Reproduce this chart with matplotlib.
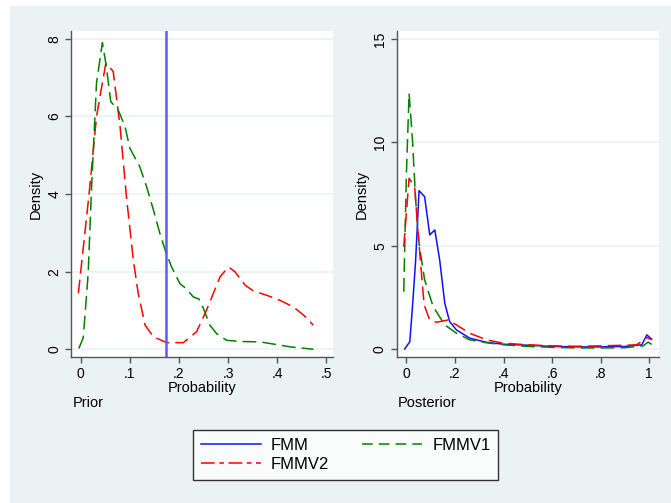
import matplotlib
matplotlib.use("Agg")
import matplotlib.pyplot as plt
from matplotlib.patches import Rectangle
from matplotlib.lines import Line2D

plt.rcParams['font.family'] = ['Liberation Sans', 'DejaVu Sans']

# prior densities
prior_v2_x = [-0.005, 0.017, 0.032, 0.051, 0.066, 0.080, 0.093, 0.107, 0.117, 0.131, 0.148,
              0.175, 0.209, 0.236, 0.256, 0.284, 0.301, 0.314, 0.335, 0.352, 0.379, 0.406,
              0.433, 0.454, 0.474]
prior_v2_y = [1.44, 4.02, 6.0, 7.37, 7.16, 5.74, 3.93, 2.30, 1.44, 0.62, 0.32,
              0.17, 0.17, 0.45, 1.0, 1.87, 2.12, 2.0, 1.65, 1.50, 1.39, 1.26,
              1.09, 0.88, 0.62]
prior_v1_x = [-0.004, 0.005, 0.015, 0.022, 0.032, 0.044, 0.052, 0.061, 0.076, 0.090, 0.100,
              0.120, 0.134, 0.148, 0.161, 0.173, 0.185, 0.202, 0.215, 0.229, 0.241, 0.250,
              0.263, 0.277, 0.297, 0.324, 0.365, 0.399, 0.427, 0.474]
prior_v1_y = [0.02, 0.3, 1.95, 4.19, 6.86, 7.9, 7.29, 6.38, 6.17, 5.74, 5.18,
              4.71, 4.19, 3.59, 2.99, 2.51, 2.12, 1.69, 1.56, 1.35, 1.29, 1.05,
              0.62, 0.40, 0.23, 0.20, 0.19, 0.12, 0.06, 0.0]
prior_cut = 0.173

# posterior densities
post_fmm_x = [-0.007, 0.014, 0.027, 0.038, 0.052, 0.075, 0.096, 0.117, 0.137, 0.158, 0.178,
              0.206, 0.261, 0.33, 0.398, 0.5, 0.6, 0.7, 0.8, 0.9, 0.969, 0.99, 1.01]
post_fmm_y = [0.0, 0.35, 2.37, 4.3, 7.66, 7.37, 5.52, 5.76, 4.3, 2.21, 1.32,
              0.92, 0.52, 0.32, 0.23, 0.18, 0.12, 0.10, 0.10, 0.12, 0.2, 0.68, 0.47]
post_v2_x = [-0.011, 0.011, 0.034, 0.048, 0.073, 0.096, 0.124, 0.171, 0.206, 0.261, 0.33,
             0.398, 0.5, 0.6, 0.7, 0.8, 0.9, 0.948, 0.99, 1.01]
post_v2_y = [4.95, 8.26, 7.85, 5.6, 2.13, 1.4, 1.29, 1.4, 1.16, 0.76, 0.44,
             0.28, 0.2, 0.15, 0.13, 0.15, 0.18, 0.2, 0.55, 0.45]
post_v1_x = [-0.011, 0.0, 0.011, 0.025, 0.038, 0.052, 0.075, 0.11, 0.158, 0.206, 0.261,
             0.33, 0.4, 0.5, 0.6, 0.7, 0.8, 0.9, 0.975, 0.995, 1.01]
post_v1_y = [2.77, 8.5, 12.37, 10.11, 7.2, 5.11, 3.34, 2.05, 1.16, 0.76, 0.44,
             0.3, 0.2, 0.12, 0.08, 0.05, 0.05, 0.06, 0.15, 0.33, 0.22]

W, H = 671, 503
fig = plt.figure(figsize=(W / 100, H / 100), dpi=100, facecolor="white")
fig.patches.append(Rectangle((10 / W, 0), 1, 1 - 6 / H, transform=fig.transFigure,
                             facecolor="#eaf2f3", edgecolor="none", zorder=-10))

bl = 1 - 357 / H
ht = (357 - 31) / H
ax1 = fig.add_axes([71 / W, bl, (333 - 71) / W, ht])
ax2 = fig.add_axes([396.7 / W, bl, (659 - 396.7) / W, ht])

red_dash = (0, (9, 3, 3, 3))
green_dash = (0, (7, 4))
ax1.plot(prior_v2_x, prior_v2_y, color="#ff0000", lw=1.1, ls=(0, (9, 4)))
ax1.plot(prior_v1_x, prior_v1_y, color="#008000", lw=1.1, ls=(0, (9, 4)))
ax1.axvline(prior_cut, color="#5a5aff", lw=1.8)

ax2.plot(post_fmm_x, post_fmm_y, color="#1010ff", lw=1.1)
ax2.plot(post_v1_x, post_v1_y, color="#008000", lw=1.1, ls=(0, (9, 4)))
ax2.plot(post_v2_x, post_v2_y, color="#ff0000", lw=1.1, ls=(0, (9, 4)))

ax1.set_xlim(-0.02, 0.514)
ax1.set_ylim(-0.2, 8.2)
ax1.set_xticks([0, 0.1, 0.2, 0.3, 0.4, 0.5])
ax1.set_xticklabels(["0", ".1", ".2", ".3", ".4", ".5"])
ax1.set_yticks([0, 2, 4, 6, 8])

ax2.set_xlim(-0.04, 1.04)
ax2.set_ylim(-0.39, 15.39)
ax2.set_xticks([0, 0.2, 0.4, 0.6, 0.8, 1.0])
ax2.set_xticklabels(["0", ".2", ".4", ".6", ".8", "1"])
ax2.set_yticks([0, 5, 10, 15])

for ax, note in [(ax1, "Prior"), (ax2, "Posterior")]:
    ax.set_facecolor("white")
    ax.grid(axis="y", color="#eaf2f3", lw=1.2)
    ax.set_axisbelow(True)
    for s in ["top", "right"]:
        ax.spines[s].set_visible(False)
    for s in ["left", "bottom"]:
        ax.spines[s].set_color("#555555")
        ax.spines[s].set_linewidth(1.0)
    ax.tick_params(direction="out", length=4, width=1.0, color="#555555",
                   labelsize=10, pad=3)
    for lab in ax.get_yticklabels():
        lab.set_rotation(90)
        lab.set_va("center")
    ax.set_xlabel("Probability", fontsize=10.5, labelpad=0)
    ax.set_ylabel("Density", fontsize=10.5, labelpad=3)
    ax.text(0.005, -0.14, note, transform=ax.transAxes, fontsize=10.5,
            ha="left", va="center")

handles = [Line2D([], [], color="#1010ff", lw=1.1),
           Line2D([], [], color="#ff0000", lw=1.1, ls=red_dash),
           Line2D([], [], color="#008000", lw=1.1, ls=green_dash)]
labels = ["FMM", "FMMV2", "FMMV1"]
leg = fig.legend(handles, labels, ncol=2, loc="center",
                 bbox_to_anchor=(345.5 / W, 1 - 455 / H), fontsize=12,
                 frameon=True, fancybox=False, edgecolor="black",
                 handlelength=3.6, handletextpad=0.6, columnspacing=2.0,
                 labelspacing=0.25, borderpad=0.45, borderaxespad=0)
leg.get_frame().set_linewidth(1.0)

fig.savefig("out.png", dpi=100)
